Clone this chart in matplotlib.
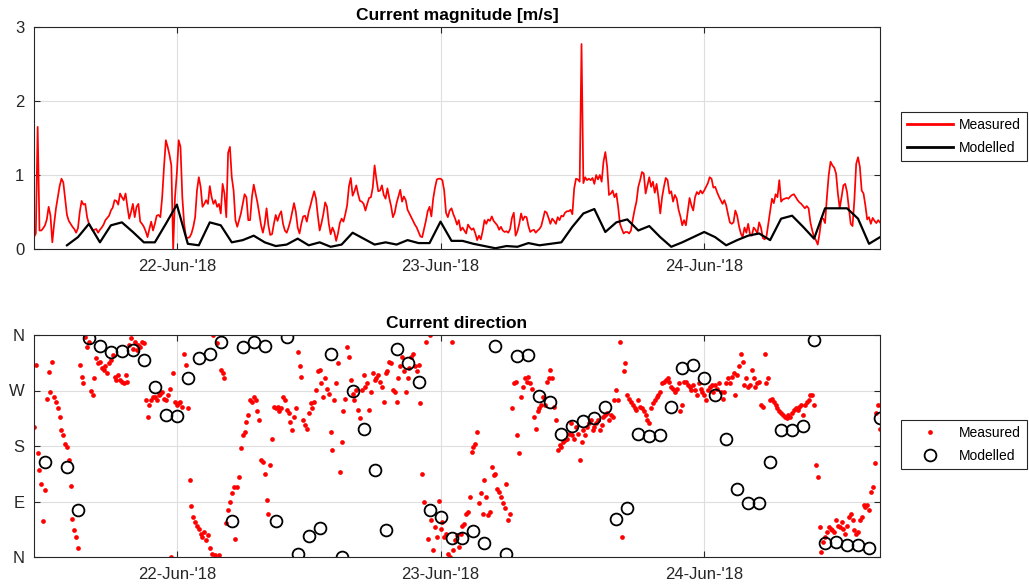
import numpy as np
import pandas as pd
import matplotlib
matplotlib.use("Agg")
import matplotlib.pyplot as plt
import matplotlib.dates as mdates

plt.rcParams['font.family'] = ['Liberation Sans', 'DejaVu Sans']

# ---------------- data ----------------
meas_start = '2018-06-21 11:00'   # measured series, 10-minute samples
meas_step = '10min'
model_start = '2018-06-21 12:00'  # modelled series, hourly
model_step = '1h'
x_range = ('2018-06-21 11:00', '2018-06-24 16:00')

mag_ticks = [0, 1, 2, 3]
dir_ticks = [0, 90, 180, 270, 360]
dir_labels = ['N', 'E', 'S', 'W', 'N']

# measured current magnitude [m/s]
mag_measured = [
    0.16, 0.21, 1.65, 0.25, 0.25, 0.28, 0.32, 0.40, 0.57, 0.45,
    0.09, 0.34, 0.55, 0.70, 0.85, 0.95, 0.90, 0.68, 0.46, 0.38,
    0.34, 0.30, 0.27, 0.22, 0.28, 0.50, 0.65, 0.60, 0.61, 0.43,
    0.34, 0.30, 0.25, 0.26, 0.27, 0.22, 0.26, 0.29, 0.33, 0.39,
    0.42, 0.45, 0.52, 0.56, 0.66, 0.65, 0.60, 0.75, 0.70, 0.66,
    0.75, 0.57, 0.41, 0.50, 0.61, 0.43, 0.57, 0.61, 0.37, 0.34,
    0.30, 0.24, 0.16, 0.27, 0.37, 0.25, 0.34, 0.45, 0.46, 0.43,
    0.70, 1.11, 1.47, 1.38, 1.27, 1.13, 0.00, 0.70, 1.02, 1.47,
    1.38, 0.70, 0.34, 0.16, 0.15, 0.16, 0.21, 0.30, 0.43, 0.79,
    0.97, 0.84, 0.57, 0.61, 0.66, 0.61, 0.85, 0.70, 0.61, 0.66,
    0.57, 0.61, 0.48, 0.88, 0.75, 0.43, 1.30, 1.38, 0.97, 0.79,
    0.39, 0.30, 0.39, 0.48, 0.61, 0.74, 0.70,
    0.39, 0.39, 0.70, 0.87, 0.75, 0.63, 0.48, 0.32, 0.22, 0.34,
    0.55, 0.32, 0.19, 0.20, 0.34, 0.46, 0.38, 0.46, 0.51, 0.34,
    0.25, 0.22, 0.29, 0.38, 0.50, 0.62, 0.50, 0.29, 0.21, 0.34,
    0.44, 0.45, 0.37, 0.50, 0.59, 0.69, 0.78, 0.68, 0.45, 0.25,
    0.35, 0.47, 0.63, 0.57, 0.34, 0.20, 0.29, 0.23, 0.11, 0.21,
    0.35, 0.41, 0.37, 0.47, 0.59, 0.85, 0.96, 0.72, 0.78, 0.86,
    0.74, 0.65, 0.64, 0.61, 0.52, 0.61, 0.69, 0.70, 0.83, 1.13,
    0.94, 0.78, 0.79, 0.86, 0.73, 0.68, 0.82, 0.69, 0.58, 0.43,
    0.49, 0.62, 0.71, 0.80, 0.64, 0.71, 0.66, 0.53, 0.48, 0.43,
    0.38, 0.33, 0.29, 0.23, 0.17, 0.16, 0.27, 0.38, 0.51, 0.57,
    0.44, 0.68, 0.83, 0.94, 0.95, 0.95, 0.93, 0.79, 0.49, 0.43,
    0.52, 0.55, 0.47, 0.41, 0.33,
    0.39, 0.25, 0.29, 0.25, 0.21, 0.33, 0.29, 0.26, 0.28, 0.21,
    0.12, 0.18, 0.13, 0.24, 0.39, 0.34, 0.40, 0.38, 0.44, 0.38,
    0.35, 0.32, 0.26, 0.30, 0.25, 0.23, 0.24, 0.22, 0.27, 0.42,
    0.49, 0.18, 0.24, 0.34, 0.48, 0.39, 0.44, 0.43, 0.31, 0.23,
    0.25, 0.26, 0.22, 0.25, 0.27, 0.31, 0.41, 0.51, 0.49, 0.42,
    0.34, 0.41, 0.38, 0.34, 0.43, 0.39, 0.45, 0.44, 0.49, 0.51,
    0.51, 0.53, 0.47, 0.82, 0.95, 0.94, 0.91, 2.77, 0.89, 0.97,
    0.93, 0.95, 0.93, 0.96, 0.88, 1.00, 0.94, 1.00, 0.91, 1.18,
    1.31, 1.11, 0.73, 0.75, 0.79, 0.70, 0.75, 0.57, 0.34, 0.27,
    0.21, 0.23, 0.23, 0.21, 0.25, 0.40, 0.53, 0.64, 0.84, 0.93,
    1.04, 1.02, 0.75, 0.86, 0.97, 0.84, 0.91, 0.76, 0.88, 0.70,
    0.48, 0.70, 0.84,
    0.96, 0.93, 0.75, 0.78, 0.64, 0.73, 0.68, 0.53, 0.44, 0.32,
    0.39, 0.32, 0.50, 0.69, 0.59, 0.52, 0.70, 0.77, 0.74, 0.79,
    0.75, 0.79, 0.84, 0.89, 0.97, 0.95, 0.83, 0.84, 0.77, 0.71,
    0.66, 0.61, 0.66, 0.59, 0.47, 0.36, 0.34, 0.36, 0.52, 0.45,
    0.31, 0.21, 0.16, 0.29, 0.22, 0.34, 0.20, 0.18, 0.29, 0.26,
    0.21, 0.36, 0.29, 0.15, 0.13, 0.17, 0.34, 0.51, 0.68, 0.62,
    0.74, 0.70, 0.93, 0.64, 0.67, 0.68, 0.69, 0.68, 0.71, 0.73,
    0.74, 0.70, 0.66, 0.63, 0.61, 0.58, 0.55, 0.58, 0.55, 0.36,
    0.25, 0.16, 0.12, 0.06, 0.21, 0.41, 0.41, 0.35, 0.70, 1.00,
    1.18, 1.13, 1.10, 1.02, 0.75, 0.55, 0.70, 0.86, 0.88, 0.77,
    0.55, 0.34, 0.31, 0.66, 1.15, 1.24, 1.11, 0.79, 0.75, 0.59,
    0.40, 0.43, 0.34, 0.42, 0.38, 0.35, 0.39, 0.36,
]

# measured current direction [deg], same 10-minute samples
dir_measured = [
    211, 312, 168, 141, 119, 58, 108, 257, 300, 268, 316, 260, 252, 241, 227,
    206, 198, 184, 179, 157, 115, 62, 43, 32, 14,
    311, 292, 282, 356, 341, 349, 270, 263, 290, 322, 314, 317, 306, 303, 309,
    298, 314, 320, 328, 292, 287, 295, 287, 284, 282, 295, 284, 344, 355, 338,
    348, 336, 344, 341, 349, 347,
    254, 227, 246, 254, 260, 260, 254, 263, 265, 268, 257, 254, 263, 273, 0,
    299, 252, 246, 250, 252, 243, 329, 312, 241,
    125, 82, 65, 56, 51, 46, 38, 32, 41, 27, 35, 14, 5, 360, 3, 347, 3, 303,
    298, 290,
    55, 76, 89, 104, 113, 30, 114, 130, 176, 198, 203, 219, 230, 254, 252, 260,
    254, 236, 222, 157, 154, 135, 92, 70,
    149, 192, 244,
    241, 244, 236, 241, 260, 254, 238, 233, 219, 206, 227, 241, 332, 309, 292,
    222, 214, 208, 233, 249, 241, 252, 271, 301, 303, 282, 260, 290, 273, 265,
    203, 173, 254, 282, 314, 138, 187, 236, 257, 341, 325, 287, 265, 254, 271,
    238, 225, 271, 295, 276, 282, 238, 268, 298, 287, 290, 295,
    284, 276, 252, 298, 301, 317, 314, 271, 268, 252, 290, 309, 325, 301, 268,
    290, 306, 325, 330, 309, 301, 311, 250,
    134, 89, 349, 30, 360, 60, 11, 49, 32, 91,
    46, 57, 32, 38, 5, 0, 349, 11, 27, 35, 16, 38, 51, 54, 70, 73, 97, 171,
    179, 184, 203, 87, 103, 70, 125, 97, 68, 73, 146, 133, 135, 111, 106, 97,
    87, 79, 119, 60, 70,
    241, 282, 284, 198, 168, 260, 276, 290, 284, 292, 282, 273, 227, 208, 236,
    241, 246, 260, 246, 284, 290, 303, 290, 244, 222, 173, 181, 179, 187, 190,
    192, 200, 217, 198, 192, 211, 200, 157, 187, 206, 198, 211, 217, 222, 206,
    211, 217, 222, 206, 214, 227, 230, 233, 222, 230, 227,
    254, 271, 254, 349, 32, 301, 314, 263, 257, 252,
    246, 241, 238, 254, 244, 241, 236, 230, 222, 217,
    241, 249, 254, 260, 263, 268, 282, 284, 287, 290,
    284, 276, 273, 268, 273, 282, 236, 246, 284, 284,
    279, 276, 271, 279, 271, 263, 282, 273, 268, 263,
    254, 271, 276, 279, 268, 279, 273, 282, 268, 257,
    268, 282, 290, 282, 292, 298, 263, 295, 309, 330,
    317, 279, 290, 276, 279, 303, 290, 276, 282, 284,
    246, 244, 330, 282, 290, 254, 257, 252, 246, 241,
    236, 233, 230, 227, 225, 230, 227, 233, 238, 241,
    238, 244, 246, 230, 246, 252, 254, 263, 263, 246,
    149, 130, 49, 8, 24, 32, 41, 49, 46, 43,
    41, 60, 51, 49, 57, 46, 38, 51, 65, 70,
    60, 43, 38, 41, 60, 65, 84, 81, 84, 76,
    106, 114, 152, 233, 246, 208,
]

# modelled magnitude [m/s], hourly (NaN = no value)
mag_modelled = [
    np.nan, np.nan,
    0.05, 0.16, 0.34, 0.09, 0.32, 0.36, 0.23, 0.09, 0.09, 0.34, 0.60, 0.07,
    0.05, 0.36, 0.32, 0.09, 0.12,
    0.18, 0.09, 0.04, 0.06, 0.14, 0.05, 0.09, 0.03, 0.06, 0.22, 0.14, 0.06,
    0.09, 0.06, 0.12, 0.08, 0.08, 0.37, 0.11,
    0.11, 0.07, 0.04, 0.01, 0.04, 0.03, 0.08, 0.05, 0.07, 0.09, 0.30, 0.48,
    0.54, 0.23, 0.36, 0.40, 0.25, 0.31, 0.16,
    0.03, 0.09, 0.16, 0.23, 0.16, 0.05, 0.12, 0.18, 0.21, 0.12, 0.41, 0.45,
    0.30, 0.14, 0.55, 0.55, 0.55, 0.41, 0.07, 0.16,
]

# modelled direction [deg], hourly
dir_modelled = [
    154, np.nan,
    146, 76, 355, 342, 332, 334, 336, 319, 276, 230, 229, 290, 323, 330, 348,
    58, 340, 348, 342, 58, 356, 5, 34, 47, 329, 0, 270, 208, 141, 43, 338,
    314, 284, 77, 65, 31, 31, 42, 22, 342, 5, 326, 328, 261, 252, 200, 212,
    220, 225, 244, 62, 80, 200, 197, 198, 243, 306, 312, 291, 262, 191, 111,
    88, 88, 154, 206, 206, 213, 352, 23, 24, 20, 19, 14, 225,
]

assert len(mag_measured) == len(dir_measured), (len(mag_measured), len(dir_measured))
assert len(mag_modelled) == len(dir_modelled), (len(mag_modelled), len(dir_modelled))

t_meas = pd.date_range(meas_start, periods=len(mag_measured), freq=meas_step)
t_mod = pd.date_range(model_start, periods=len(mag_modelled), freq=model_step)

# ---------------- figure ----------------
W, H = 1029, 588
fig = plt.figure(figsize=(W / 100, H / 100), dpi=100)
ax1 = fig.add_axes([34 / W, 1 - 249 / H, 846 / W, 222 / H])
ax2 = fig.add_axes([34 / W, 1 - 557 / H, 846 / W, 222 / H])

TXT = '#262626'


def style(ax):
    ax.grid(True, color='#dedede', lw=0.8)
    ax.set_axisbelow(True)
    for s in ax.spines.values():
        s.set_color(TXT)
        s.set_linewidth(0.8)
    ax.tick_params(direction='in', length=4.5, width=0.8, colors=TXT,
                   top=True, right=True, labelsize=12, pad=7)
    ax.xaxis.set_major_locator(mdates.DayLocator())
    ax.xaxis.set_major_formatter(mdates.DateFormatter("%d-%b-'%y"))
    ax.set_xlim(pd.Timestamp(x_range[0]), pd.Timestamp(x_range[1]))


# top: magnitude
ax1.plot(t_meas, mag_measured, color='red', lw=1.25, label='Measured')
ax1.plot(t_mod, mag_modelled, color='black', lw=1.6, label='Modelled')
style(ax1)
ax1.set_ylim(0, 3)
ax1.set_yticks(mag_ticks)
ax1.set_title('Current magnitude [m/s]', fontsize=12.5, fontweight='bold',
              color='black', pad=5)

# bottom: direction
ax2.plot(t_meas, dir_measured, linestyle='none', marker='o', ms=3.4,
         mfc='red', mec='none', label='Measured')
ax2.plot(t_mod, dir_modelled, linestyle='none', marker='o', ms=8.5,
         mfc='none', mec='black', mew=1.3, label='Modelled')
style(ax2)
ax2.set_ylim(0, 360)
ax2.set_yticks(dir_ticks)
ax2.set_yticklabels(dir_labels)
ax2.set_title('Current direction', fontsize=12.5, fontweight='bold',
              color='black', pad=5)

leg_kw = dict(loc='upper left', borderaxespad=0, fontsize=10, frameon=True,
              fancybox=False, edgecolor=TXT, framealpha=1, handlelength=3.3,
              handletextpad=0.4, borderpad=0.45, labelspacing=0.6)
l1 = fig.legend(*ax1.get_legend_handles_labels(),
                bbox_to_anchor=(901 / W, 1 - 112 / H), **leg_kw)
l1.get_frame().set_linewidth(0.8)
for ln in l1.get_lines():
    ln.set_linewidth(2.0)
l2 = fig.legend(*ax2.get_legend_handles_labels(),
                bbox_to_anchor=(901 / W, 1 - 420 / H), **leg_kw)
l2.get_frame().set_linewidth(0.8)

fig.savefig('out.png', dpi=100, facecolor='white')
